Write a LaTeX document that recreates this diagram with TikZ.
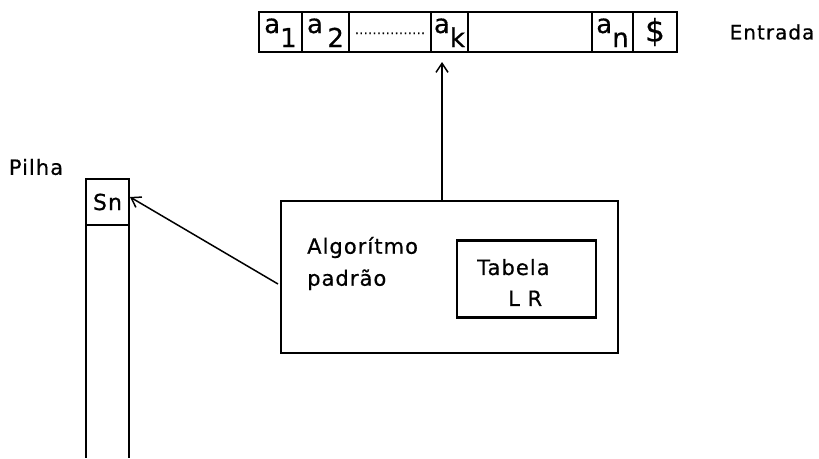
\documentclass[tikz,border=0pt]{standalone}
\usepackage{fontspec}
\setmainfont{DejaVu Sans}[LetterSpace=5, FakeBold=0.6]
\usetikzlibrary{arrows.meta}
\usetikzlibrary{positioning}

\newcommand{\ix}[1]{\raisebox{-14pt}{#1}}

\begin{document}
\begin{tikzpicture}[x=1pt, y=-1pt,
  cell/.style={draw, line width=2.2pt, minimum height=40pt, inner sep=0pt, outer sep=0pt,
    font=\fontsize{26}{26}\selectfont},
  sym/.style={text height=16pt, text depth=14pt},% letter on top, index hanging low
  frame/.style={draw, line width=2.2pt, inner sep=0pt, outer sep=0pt},
  lbl/.style={inner sep=0pt, align=left, font=\fontsize{21}{32}\selectfont},
  barb/.style={-{Straight Barb[length=9pt,width=12pt]}, line width=1.5pt}
]
\useasboundingbox (0,0) rectangle (819,458);
\coordinate (floor) at (0,458);

% input tape
\node[cell, sym, minimum width=43pt] (a1) at (280.5,32) {a\ix{1}};
\node[cell, sym, minimum width=47pt, right=0pt of a1] (a2) {a\,\ix{2}};
\node[cell, sym, minimum width=82pt, right=0pt of a2] (dots)
  {\raisebox{-1pt}{\fontsize{12}{12}\selectfont ................}};
\node[cell, sym, minimum width=37pt, right=0pt of dots] (ak) {a\ix{k}};
\node[cell, minimum width=124pt, right=0pt of ak] (gap) {};
\node[cell, sym, minimum width=41pt, right=0pt of gap] (an) {a\ix{n}};
\node[cell, minimum width=44pt, right=0pt of an, font=\fontsize{31}{31}\selectfont] (eof) {\$};
\node[lbl, font=\fontsize{20}{20}\selectfont] (entrada) at (772,32) {Entrada};

% stack
\node[lbl] (pilha) at (36,167) {Pilha};
\node[frame, minimum width=43pt, minimum height=46pt, font=\fontsize{22}{22}\selectfont] (sn) at (107.5,202) {Sn};
\draw[line width=2.2pt] (sn.south west) -- (sn.south west |- floor);
\draw[line width=2.2pt] (sn.south east) -- (sn.south east |- floor);

% parser
\node[frame, minimum width=337pt, minimum height=152pt] (main) at (449.5,277) {};
\node[lbl, anchor=west] (alg) at (307,263.5) {Algorítmo\\padrão};
\node[frame, minimum width=139pt, minimum height=77pt] (tab) at (526.5,279) {};
\node[lbl, anchor=west, font=\fontsize{21}{31}\selectfont] (tabtxt) at (477,282.5) {Tabela\\\hspace*{31pt}L R};

\draw[barb] ([xshift=-7.5pt]main.north) -- ([xshift=-7.5pt,yshift=-10pt]ak.south);
\draw[barb] ([shift={(-3,7)}]main.west) -- ([shift={(1,-5)}]sn.east);
\end{tikzpicture}
\end{document}
